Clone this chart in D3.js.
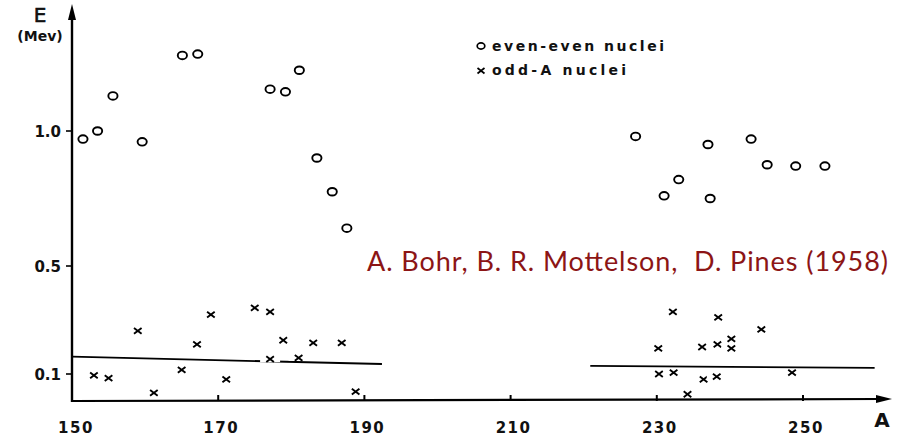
<!DOCTYPE html>
<html>
<head>
<meta charset="utf-8">
<title>Pairing gap: even-even vs odd-A nuclei</title>
<style>
  body { margin: 0; background: #fff; }
  svg { display: block; }
  .tick-label { font-family: "DejaVu Sans", sans-serif; font-weight: bold; font-size: 15px; fill: #111; }
  .legend { font-family: "DejaVu Sans", sans-serif; font-weight: bold; font-size: 14px; fill: #111; }
  .credit { font-family: Lato, "Open Sans", sans-serif; font-size: 27px; fill: #8c1515; white-space: pre; }
</style>
</head>
<body>
<div id="chart"></div>
<script src="https://d3js.org/d3.v7.min.js"></script>
<script>
// even-even nuclei (circles): mass number A and energy E (MeV)
const evenA = [151.5, 153.5, 155.6, 159.6, 165.1, 167.2, 177.1, 179.2, 181.1, 183.5, 185.6, 187.6,
               227.1, 231.0, 233.0, 237.0, 237.3, 242.9, 245.1, 249.0, 253.0];
const evenE = [0.97, 1.0, 1.13, 0.96, 1.28, 1.285, 1.155, 1.145, 1.225, 0.90, 0.775, 0.64,
               0.98, 0.76, 0.82, 0.95, 0.75, 0.97, 0.875, 0.87, 0.87];

// odd-A nuclei (crosses)
const oddA = [153.0, 155.0, 159.0, 161.2, 165.0, 167.1, 169.0, 171.1, 175.0, 177.1, 177.1, 178.9,
              181.0, 183.0, 186.9, 188.8,
              230.2, 230.3, 232.2, 232.3, 234.2, 236.2, 236.4, 238.2, 238.3, 238.4, 240.2, 240.2,
              244.3, 248.5];
const oddE = [0.095, 0.085, 0.26, 0.03, 0.115, 0.21, 0.32, 0.08, 0.345, 0.33, 0.155, 0.225,
              0.16, 0.215, 0.215, 0.035,
              0.195, 0.10, 0.33, 0.105, 0.025, 0.20, 0.08, 0.09, 0.21, 0.31, 0.23, 0.195,
              0.265, 0.105];

// reference lines (A, E)
const lineLeft = [[150, 0.164], [192.4, 0.137]];
const lineRight = [[220.9, 0.130], [259.8, 0.123]];

const xTicks = [150, 170, 190, 210, 230, 250];
const yTicks = [0.1, 0.5, 1.0];
const yTickLabels = ["0.1", "0.5", "1.0"];

const width = 901, height = 436;

const svg = d3.select("#chart").append("svg")
    .attr("width", width)
    .attr("height", height);

const x = d3.scaleLinear().domain([150, 250]).range([72, 803]);
const y = d3.scaleLinear().domain([0, 1]).range([401, 131]);

const x0 = x(150), yAxisY = y(0);

// axes
svg.append("line")
    .attr("x1", x0).attr("y1", yAxisY + 1)
    .attr("x2", x0).attr("y2", 12)
    .attr("stroke", "#000").attr("stroke-width", 2.4);
svg.append("path")
    .attr("d", `M${x0},4 L${x0 - 4},20 L${x0 + 4},20 Z`)
    .attr("fill", "#000");

svg.append("line")
    .attr("x1", x0).attr("y1", yAxisY)
    .attr("x2", 880).attr("y2", yAxisY - 2)
    .attr("stroke", "#000").attr("stroke-width", 2.2);
svg.append("path")
    .attr("d", `M892,${yAxisY - 2} L876,${yAxisY - 6} L876,${yAxisY + 2} Z`)
    .attr("fill", "#000");

// x ticks
svg.selectAll(".xtick").data(xTicks.slice(1)).join("line")
    .attr("x1", d => x(d)).attr("x2", d => x(d))
    .attr("y1", yAxisY).attr("y2", yAxisY - 6)
    .attr("stroke", "#000").attr("stroke-width", 2);

svg.selectAll(".xlabel").data(xTicks).join("text")
    .attr("class", "tick-label")
    .attr("x", d => x(d) + (d === 150 ? 4 : 3))
    .attr("y", 433)
    .attr("text-anchor", "middle")
    .attr("letter-spacing", 1.5)
    .text(d => d);

// y ticks
svg.selectAll(".ytick").data(yTicks).join("line")
    .attr("x1", x0 - 6).attr("x2", x0)
    .attr("y1", d => y(d)).attr("y2", d => y(d))
    .attr("stroke", "#000").attr("stroke-width", 1.6);

svg.selectAll(".ylabel").data(yTicks).join("text")
    .attr("class", "tick-label")
    .attr("x", x0 - 11)
    .attr("y", d => y(d) + 6)
    .attr("text-anchor", "end")
    .text((d, i) => yTickLabels[i]);

// axis titles
svg.append("text").attr("class", "tick-label")
    .attr("x", 40).attr("y", 22).attr("text-anchor", "middle")
    .style("font-size", "20px").style("font-weight", "normal").style("stroke", "#111").style("stroke-width", 0.6)
    .text("E");
svg.append("text").attr("class", "tick-label")
    .attr("x", 40).attr("y", 41).attr("text-anchor", "middle")
    .style("font-size", "14px")
    .text("(Mev)");
svg.append("text").attr("class", "tick-label")
    .attr("x", 882).attr("y", 427).attr("text-anchor", "middle")
    .style("font-size", "20px")
    .text("A");

// reference lines
const line = d3.line().x(d => x(d[0])).y(d => y(d[1]));
[lineLeft, lineRight].forEach(l => {
  svg.append("path")
      .attr("d", line(l))
      .attr("fill", "none")
      .attr("stroke", "#000")
      .attr("stroke-width", 1.8);
});

// circles (even-even)
svg.append("g").selectAll("ellipse")
  .data(d3.range(evenA.length))
  .join("ellipse")
    .attr("cx", i => x(evenA[i]))
    .attr("cy", i => y(evenE[i]))
    .attr("rx", 4.6).attr("ry", 3.8)
    .attr("fill", "none")
    .attr("stroke", "#000")
    .attr("stroke-width", 1.9);

// crosses (odd-A), with a white patch that breaks the lines under them
const crosses = svg.append("g").selectAll("g")
  .data(d3.range(oddA.length))
  .join("g")
    .attr("transform", i => `translate(${x(oddA[i])},${y(oddE[i])})`);

crosses.append("rect")
    .attr("x", -10).attr("y", -3).attr("width", 20).attr("height", 6)
    .attr("fill", "#fff");
crosses.append("path")
    .attr("d", "M-3.8,-2.9L3.8,2.9M-3.8,2.9L3.8,-2.9")
    .attr("stroke", "#000")
    .attr("stroke-width", 1.9);

// legend
const legend = svg.append("g");
legend.append("ellipse")
    .attr("cx", 481).attr("cy", 46).attr("rx", 3.8).attr("ry", 3.1)
    .attr("fill", "none").attr("stroke", "#000").attr("stroke-width", 1.7);
legend.append("text").attr("class", "legend")
    .attr("x", 492).attr("y", 51)
    .attr("textLength", 172).attr("lengthAdjust", "spacing")
    .text("even-even nuclei");
legend.append("path")
    .attr("d", "M477.5,68L484.5,73.5M477.5,73.5L484.5,68")
    .attr("stroke", "#000").attr("stroke-width", 1.7);
legend.append("text").attr("class", "legend")
    .attr("x", 492).attr("y", 75)
    .attr("textLength", 134).attr("lengthAdjust", "spacing")
    .text("odd-A nuclei");

// credit
svg.append("text").attr("class", "credit")
    .attr("x", 367).attr("y", 271)
    .attr("textLength", 521).attr("lengthAdjust", "spacing")
    .text("A. Bohr, B. R. Mottelson,  D. Pines (1958)");
</script>
</body>
</html>
